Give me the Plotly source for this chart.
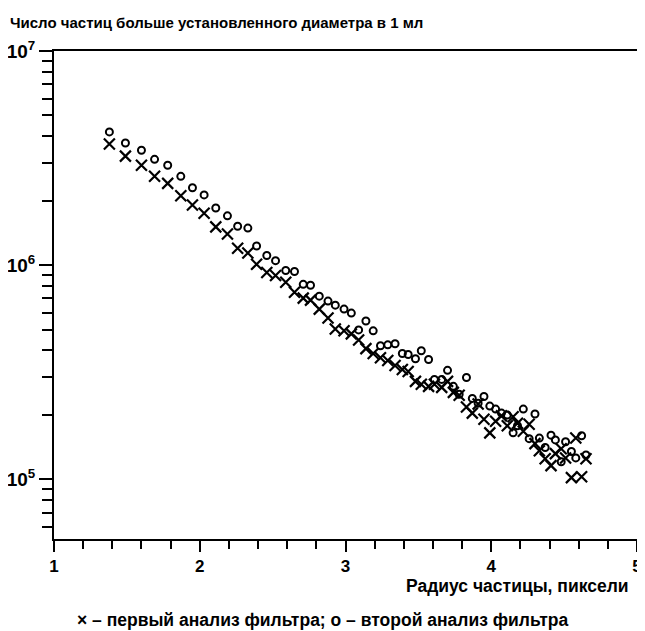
import plotly.graph_objects as go

# particle radius, pixels
radius = [1.38, 1.49, 1.60, 1.69, 1.78, 1.87, 1.95, 2.03, 2.11, 2.19, 2.26, 2.33,
          2.39, 2.46, 2.52, 2.59, 2.65, 2.71, 2.76, 2.82, 2.88, 2.93, 2.99, 3.04,
          3.09, 3.14, 3.19, 3.24, 3.29, 3.34, 3.39, 3.43, 3.48, 3.52, 3.57, 3.61,
          3.66, 3.70, 3.74, 3.78, 3.83, 3.87, 3.91, 3.95, 3.99, 4.03, 4.07, 4.11,
          4.15, 4.18, 4.22, 4.26, 4.30, 4.33, 4.37, 4.41, 4.44, 4.48, 4.51, 4.55,
          4.58, 4.62, 4.65]

# first filter analysis (crosses)
first_analysis = [3.68e6, 3.23e6, 2.93e6, 2.60e6, 2.41e6, 2.11e6, 1.91e6, 1.75e6,
                  1.51e6, 1.40e6, 1.20e6, 1.14e6, 1.01e6, 9.25e5, 8.96e5, 8.32e5,
                  7.48e5, 7.02e5, 6.87e5, 6.24e5, 5.67e5, 5.04e5, 4.94e5, 4.78e5,
                  4.48e5, 4.08e5, 3.87e5, 3.70e5, 3.59e5, 3.40e5, 3.26e5, 3.19e5,
                  2.87e5, 2.78e5, 2.72e5, 2.78e5, 2.69e5, 2.87e5, 2.55e5, 2.47e5,
                  2.18e5, 2.04e5, 2.25e5, 1.91e5, 1.65e5, 1.87e5, 1.98e5, 1.78e5,
                  1.96e5, 1.83e5, 1.68e5, 1.81e5, 1.47e5, 1.36e5, 1.25e5, 1.16e5,
                  1.32e5, 1.39e5, 1.26e5, 1.02e5, 1.56e5, 1.03e5, 1.25e5]

# second filter analysis (circles)
second_analysis = [4.19e6, 3.72e6, 3.44e6, 3.12e6, 2.93e6, 2.60e6, 2.30e6, 2.13e6,
                   1.85e6, 1.70e6, 1.52e6, 1.49e6, 1.23e6, 1.11e6, 1.05e6, 9.45e5,
                   9.35e5, 8.14e5, 8.06e5, 7.17e5, 6.80e5, 6.51e5, 6.24e5, 5.98e5,
                   4.99e5, 5.49e5, 4.94e5, 4.21e5, 4.25e5, 4.30e5, 3.87e5, 3.83e5,
                   3.66e5, 3.99e5, 3.63e5, 2.93e5, 2.93e5, 3.23e5, 2.72e5, 2.50e5,
                   2.99e5, 2.39e5, 2.27e5, 2.44e5, 2.20e5, 2.13e5, 2.04e5, 2.00e5,
                   1.65e5, 1.78e5, 2.13e5, 1.55e5, 2.02e5, 1.56e5, 1.41e5, 1.61e5,
                   1.53e5, 1.21e5, 1.50e5, 1.35e5, 1.26e5, 1.60e5, 1.30e5]

x_ticks = [1, 2, 3, 4, 5]
y_ticks = [1e5, 1e6, 1e7]
y_ticklabels = ["10<sup>5</sup>", "10<sup>6</sup>", "10<sup>7</sup>"]

FONT = "Liberation Sans, Arial, sans-serif"

fig = go.Figure()
fig.add_trace(go.Scatter(
    x=radius, y=second_analysis, mode="markers", name="второй анализ",
    marker=dict(symbol="circle-open", size=7, color="black",
                line=dict(color="black", width=2)),
))
fig.add_trace(go.Scatter(
    x=radius, y=first_analysis, mode="markers", name="первый анализ",
    marker=dict(symbol="x-thin-open", size=11, color="black",
                line=dict(color="black", width=2.2)),
))

# page body has an 8px margin, so the figure is sized to fit the window
fig.update_layout(
    width=637, height=623,
    margin=dict(l=46, r=8, t=43, b=92, autoexpand=False),
    paper_bgcolor="white", plot_bgcolor="white",
    showlegend=False,
    font=dict(family=FONT, color="black"),
    xaxis=dict(
        range=[1, 5], tickmode="linear", tick0=1, dtick=1,
        showgrid=False, zeroline=False, automargin=False,
        showline=True, linecolor="black", linewidth=2, mirror=True,
        ticks="outside", ticklen=11, tickwidth=2, tickcolor="black",
        minor=dict(tickmode="linear", tick0=1, dtick=0.2, ticks="outside",
                   ticklen=8, tickwidth=2, tickcolor="black", showgrid=False),
        tickfont=dict(size=17, family=FONT, color="black", weight="bold"),
    ),
    yaxis=dict(
        type="log", range=[4.722, 7],
        tickmode="array", tickvals=y_ticks, ticktext=y_ticklabels,
        showgrid=False, zeroline=False, automargin=False,
        showline=True, linecolor="black", linewidth=2, mirror=True,
        ticks="outside", ticklen=13, tickwidth=2, tickcolor="black",
        minor=dict(dtick="D1", ticks="outside", ticklen=10, tickwidth=2,
                   tickcolor="black", showgrid=False),
        tickfont=dict(size=19, family=FONT, color="black", weight="bold"),
    ),
)

fig.add_annotation(
    text="Число частиц больше установленного диаметра в 1 мл",
    xref="paper", yref="paper", x=-0.079, y=1.059,
    xanchor="left", yanchor="middle", showarrow=False,
    font=dict(size=15, family=FONT, color="black", weight="bold"),
)
fig.add_annotation(
    text="Радиус частицы, пиксели",
    xref="paper", yref="paper", x=0.99, y=-0.096,
    xanchor="right", yanchor="middle", showarrow=False,
    font=dict(size=17.5, family=FONT, color="black", weight="bold"),
)
fig.add_annotation(
    text="× – первый анализ фильтра; о – второй анализ фильтра",
    xref="paper", yref="paper", x=0.46, y=-0.166,
    xanchor="center", yanchor="middle", showarrow=False,
    font=dict(size=17.5, family=FONT, color="black", weight="bold"),
)

fig.write_html("out.html")
